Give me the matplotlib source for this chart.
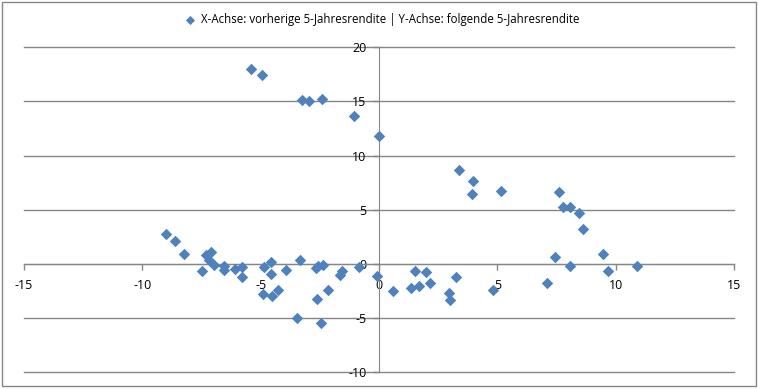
import matplotlib.pyplot as plt
from matplotlib.patches import Rectangle

plt.rcParams["axes.unicode_minus"] = False

# Vorherige (x) vs. folgende (y) 5-Jahresrendite
x_prev = [-5.4, -4.96, -3.24, -2.96, -2.42, -1.04, -0.01,
          3.37, 3.99, 3.94, 5.14, 7.62, 7.76, 8.07, 8.44, 8.63,
          7.42, 9.46, 8.07, 9.68, 7.1, 10.92,
          -0.08, 0.59, 1.51, 1.37, 1.69, 1.99, 2.14, 2.96, 2.99, 3.24, 4.82,
          -9.02, -8.64, -8.22, -7.5, -7.33, -7.08, -7.2, -6.97, -6.55, -6.55,
          -6.08, -5.78, -5.77,
          -4.87, -4.57, -4.55, -4.89, -4.53, -4.26, -3.94, -3.33, -3.48,
          -2.67, -2.58, -2.37, -2.64, -2.46, -2.17, -1.66, -1.56, -0.83]
y_next = [17.99, 17.4, 15.1, 15.0, 15.2, 13.65, 11.8,
          8.64, 7.69, 6.46, 6.73, 6.64, 5.26, 5.29, 4.67, 3.2,
          0.62, 0.89, -0.18, -0.68, -1.72, -0.15,
          -1.1, -2.49, -0.65, -2.24, -2.03, -0.77, -1.78, -2.64, -3.32, -1.17, -2.4,
          2.77, 2.09, 0.94, -0.62, 0.8, 1.1, 0.4, -0.07, -0.15, -0.52,
          -0.47, -0.32, -1.18,
          -0.27, 0.2, -0.9, -2.77, -2.98, -2.37, -0.56, 0.32, -5.0,
          -0.37, -0.2, -0.1, -3.22, -5.42, -2.4, -0.98, -0.65, -0.3]

legend_label = "X-Achse: vorherige 5-Jahresrendite | Y-Achse: folgende 5-Jahresrendite"
x_ticks = [-15, -10, -5, 0, 5, 10, 15]
y_ticks = [-10, -5, 0, 5, 10, 15, 20]

blue = "#4F81BD"
grey = "#868686"

fig = plt.figure(figsize=(7.58, 3.89), dpi=100)
ax = fig.add_axes([24 / 758, (389 - 372.3) / 389, 710 / 758, (372.3 - 47.2) / 389])

ax.scatter(x_prev, y_next, marker="D", s=34, color=blue, linewidths=0, zorder=3, label=legend_label)

ax.set_xlim(-15, 15)
ax.set_ylim(-10, 20)
ax.set_xticks(x_ticks)
ax.set_yticks(y_ticks)

for side in ["top", "right"]:
    ax.spines[side].set_visible(False)
ax.spines["left"].set_position(("data", 0))
ax.spines["bottom"].set_position(("data", 0))
ax.spines["left"].set_color(grey)
ax.spines["bottom"].set_color(grey)

ax.yaxis.grid(True, color=grey, linewidth=1)
for gl in ax.yaxis.get_gridlines():
    gl.set_clip_on(False)
ax.set_axisbelow(True)
ax.tick_params(axis="both", colors=grey, length=4, width=1, labelsize=9, labelcolor="black")
ax.tick_params(axis="x", direction="out", pad=7)
ax.tick_params(axis="y", direction="out", pad=5)
for lbl in ax.get_xticklabels() + ax.get_yticklabels():
    lbl.set_family("Open Sans")

leg = fig.legend(loc="center", bbox_to_anchor=(0.5, 1 - 20 / 389), frameon=False,
                 handletextpad=0.0, markerscale=0.8,
                 prop={"family": "Open Sans", "size": 8.3})

fig.patches.append(Rectangle((1.5 / 758, 3 / 389), 754 / 758, 384 / 389, transform=fig.transFigure,
                             fill=False, edgecolor=grey, linewidth=1))

fig.savefig("out.png", dpi=100)
